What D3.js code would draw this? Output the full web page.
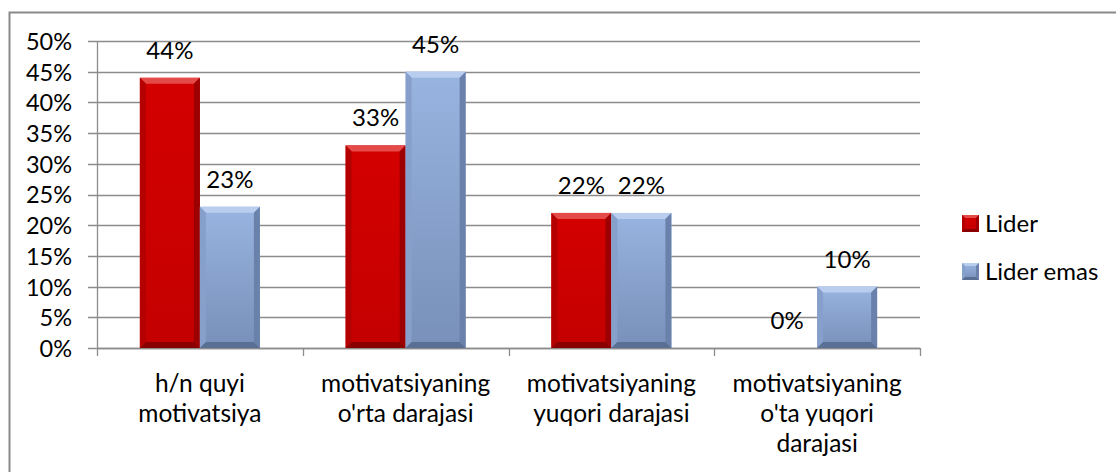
<!DOCTYPE html>
<html>
<head>
<meta charset="utf-8">
<script src="https://cdn.jsdelivr.net/npm/d3@7/dist/d3.min.js"></script>
<style>
  html, body { margin: 0; padding: 0; background: #fff; }
  svg { display: block; }
  text { font-family: Lato, "Open Sans", "DejaVu Sans", sans-serif; fill: #000; }
</style>
</head>
<body>
<svg id="chart" width="1116" height="472"></svg>
<script>
const categories = [
  ["h/n quyi", "motivatsiya"],
  ["motivatsiyaning", "o'rta darajasi"],
  ["motivatsiyaning", "yuqori darajasi"],
  ["motivatsiyaning", "o'ta yuqori", "darajasi"]
];
const seriesNames = ["Lider", "Lider emas"];
const liderValues = [0.44, 0.33, 0.22, 0.00];
const liderEmasValues = [0.23, 0.45, 0.22, 0.10];
const yTicks = [0, 0.05, 0.10, 0.15, 0.20, 0.25, 0.30, 0.35, 0.40, 0.45, 0.50];

(function () {
const series = [
  { name: seriesNames[0], values: liderValues,
    face: ["#d40000", "#c40000"], topC: "#e44a48", leftC: "#b50000", rightC: "#9c0000", bottomC: "#8a0000" },
  { name: seriesNames[1], values: liderEmasValues,
    face: ["#98b4e0", "#7890ba"], topC: "#b9cdee", leftC: "#87a0cb", rightC: "#6a82ab", bottomC: "#5a6f94" }
];

const svg = d3.select("#chart");
const defs = svg.append("defs");
series.forEach((s, i) => {
  const g = defs.append("linearGradient").attr("id", "grad" + i)
    .attr("x1", 0).attr("y1", 0).attr("x2", 0).attr("y2", 1);
  g.append("stop").attr("offset", "0%").attr("stop-color", s.face[0]);
  g.append("stop").attr("offset", "100%").attr("stop-color", s.face[1]);
});

// outer border
svg.append("rect").attr("x", 9.5).attr("y", 12.5).attr("width", 1120).attr("height", 480)
  .attr("fill", "none").attr("stroke", "#8a8a8a").attr("stroke-width", 2);

const pL = 97, pR = 920, pT = 41, pB = 348;
const x = d3.scaleBand().domain(d3.range(categories.length)).range([pL, pR]).paddingInner(0).paddingOuter(0);
const y = d3.scaleLinear().domain([0, 0.5]).range([pB, pT]);
const barW = 60;

// gridlines
svg.append("g").selectAll("line").data(yTicks).join("line")
  .attr("x1", pL - 9).attr("x2", pR)
  .attr("y1", d => Math.round(y(d)) + 0.5).attr("y2", d => Math.round(y(d)) + 0.5)
  .attr("stroke", "#8c8c8c").attr("stroke-width", 1.3);

// y axis
const yAxis = d3.axisLeft(y).tickValues(yTicks).tickFormat(d3.format(".0%")).tickSize(0).tickPadding(25);
const gy = svg.append("g").attr("transform", `translate(${pL},0)`).call(yAxis);
gy.select(".domain").remove();
gy.selectAll("text").attr("font-size", 23.5).attr("dy", "0.36em").attr("fill", "#000")
  .style("font-family", "Lato, 'Open Sans', sans-serif");
svg.append("line").attr("x1", pL + 0.5).attr("x2", pL + 0.5).attr("y1", pT).attr("y2", pB)
  .attr("stroke", "#8c8c8c").attr("stroke-width", 1.3);

// x axis
svg.append("line").attr("x1", pL).attr("x2", pR).attr("y1", pB + 0.5).attr("y2", pB + 0.5)
  .attr("stroke", "#8c8c8c").attr("stroke-width", 1.3);
const boundaries = d3.range(categories.length + 1).map(i => i < categories.length ? x(i) : x(i - 1) + x.bandwidth());
svg.append("g").selectAll("line").data(boundaries).join("line")
  .attr("x1", d => Math.round(d) + 0.5).attr("x2", d => Math.round(d) + 0.5)
  .attr("y1", pB).attr("y2", pB + 8)
  .attr("stroke", "#8c8c8c").attr("stroke-width", 1.3);

// category labels
const catG = svg.append("g");
categories.forEach((lines, i) => {
  const t = catG.append("text").attr("text-anchor", "middle").attr("font-size", 24.5);
  lines.forEach((ln, j) => {
    t.append("tspan").attr("x", x(i) + x.bandwidth() / 2).attr("y", 392 + j * 30).text(ln);
  });
});

function bevelBar(g, bx, by, bw, bh, s, gi, b) {
  if (bh <= 0) return;
  b = Math.min(b, bh / 2, bw / 2);
  g.append("rect").attr("x", bx).attr("y", by).attr("width", bw).attr("height", bh).attr("fill", `url(#grad${gi})`);
  const poly = (pts, fill) => g.append("polygon").attr("points", pts.map(p => p.join(",")).join(" ")).attr("fill", fill);
  poly([[bx, by], [bx + bw, by], [bx + bw - b, by + b], [bx + b, by + b]], s.topC);
  poly([[bx, by], [bx + b, by + b], [bx + b, by + bh - b], [bx, by + bh]], s.leftC);
  poly([[bx + bw, by], [bx + bw - b, by + b], [bx + bw - b, by + bh - b], [bx + bw, by + bh]], s.rightC);
  poly([[bx, by + bh], [bx + b, by + bh - b], [bx + bw - b, by + bh - b], [bx + bw, by + bh]], s.bottomC);
}

// bars
const barsG = svg.append("g");
series.forEach((s, si) => {
  s.values.forEach((v, i) => {
    const cx = x(i) + x.bandwidth() / 2;
    const bx = cx - barW + si * barW;
    const by = y(v);
    bevelBar(barsG, bx, by, barW, y(0) - by, s, si, 6);
  });
});

// data labels
const labG = svg.append("g");
series.forEach((s, si) => {
  s.values.forEach((v, i) => {
    const cx = x(i) + x.bandwidth() / 2 - barW / 2 + si * barW;
    labG.append("text").attr("x", cx).attr("y", y(v) - 19).attr("text-anchor", "middle")
      .attr("font-size", 24).text(d3.format(".0%")(v));
  });
});

// legend
const legY = [223, 271];
series.forEach((s, si) => {
  const lg = svg.append("g");
  bevelBar(lg, 962, legY[si] - 8, 17, 17, s, si, 3);
  lg.append("text").attr("x", 985).attr("y", legY[si]).attr("dy", "0.36em").attr("font-size", 24).text(s.name);
});
})();
</script>
</body>
</html>
